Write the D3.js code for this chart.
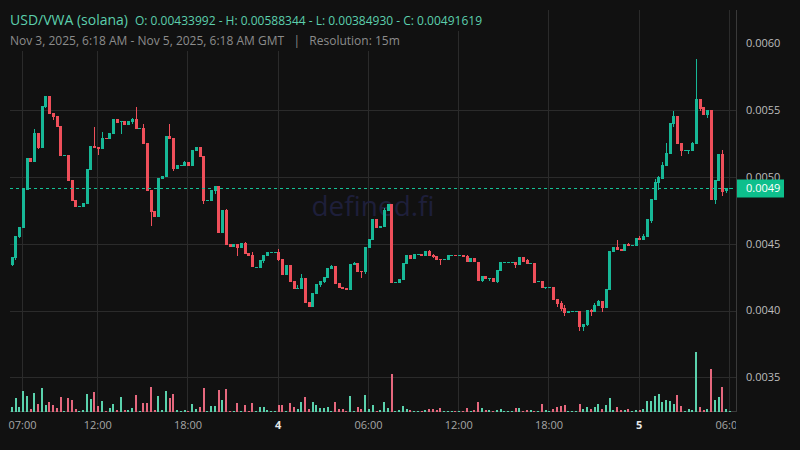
<!DOCTYPE html>
<html><head><meta charset="utf-8">
<script src="https://cdn.jsdelivr.net/npm/d3@7"></script>
<style>html,body{margin:0;padding:0;background:#111111;}svg{display:block;}</style>
</head><body>
<svg id="c" width="800" height="450"></svg>
<script>
// ---- data (15m candles, GMT) ----
const firstCandleUTC = Date.UTC(2025, 10, 3, 6, 15);
const candleMinutes = 15;
const open = [
0.00433992,0.004394,0.004551,0.004618,0.004903,0.005142,0.005112,0.005329,0.005217,0.005524,
0.005606,0.005479,0.005457,0.005382,0.005157,0.005165,0.004978,0.004828,0.004775,0.004775,
0.004798,0.005053,0.005232,0.005225,0.005210,0.005292,0.005285,0.005322,0.005434,0.005412,
0.005419,0.005389,0.005412,0.005434,0.005359,0.005367,0.005255,0.004903,0.004745,0.004701,
0.004985,0.005000,0.005307,0.005292,0.005060,0.005082,0.005082,0.005112,0.005082,0.005195,
0.005225,0.005157,0.004820,0.004820,0.004895,0.004933,0.004581,0.004753,0.004499,0.004476,
0.004499,0.004469,0.004506,0.004431,0.004416,0.004319,0.004319,0.004371,0.004409,0.004431,
0.004431,0.004439,0.004386,0.004267,0.004341,0.004222,0.004162,0.004162,0.004244,0.004064,
0.004027,0.004124,0.004192,0.004214,0.004244,0.004311,0.004334,0.004207,0.004177,0.004169,
0.004154,0.004341,0.004356,0.004296,0.004289,0.004469,0.004529,0.004686,0.004618,0.004626,
0.004745,0.004798,0.004207,0.004207,0.004229,0.004349,0.004416,0.004386,0.004416,0.004424,
0.004409,0.004446,0.004416,0.004409,0.004386,0.004379,0.004379,0.004409,0.004416,0.004409,
0.004416,0.004409,0.004364,0.004394,0.004364,0.004222,0.004259,0.004237,0.004244,0.004214,
0.004296,0.004356,0.004356,0.004356,0.004364,0.004341,0.004401,0.004379,0.004349,0.004356,
0.004214,0.004222,0.004169,0.004169,0.004177,0.004087,0.004057,0.004020,0.003982,0.003990,
0.003990,0.003997,0.003877,0.003892,0.004005,0.003990,0.004034,0.004072,0.004020,0.004154,
0.004439,0.004476,0.004461,0.004446,0.004499,0.004484,0.004484,0.004544,0.004529,0.004551,
0.004671,0.004828,0.004955,0.004985,0.005082,0.005172,0.005397,0.005457,0.005255,0.005195,
0.005195,0.005195,0.005247,0.005584,0.005524,0.005464,0.005502,0.004828,0.004970,0.005172,
0.004895,0.004910];
const high = [
0.004401,0.004559,0.004626,0.004918,0.005142,0.005142,0.005359,0.005329,0.005531,0.005606,
0.005606,0.005479,0.005457,0.005382,0.005165,0.005165,0.004978,0.004828,0.004783,0.004805,
0.005060,0.005232,0.005374,0.005225,0.005337,0.005292,0.005329,0.005434,0.005434,0.005419,
0.005419,0.005419,0.005442,0.005524,0.005367,0.005397,0.005255,0.004903,0.004745,0.004993,
0.005008,0.005307,0.005397,0.005292,0.005090,0.005090,0.005120,0.005112,0.005202,0.005225,
0.005225,0.005157,0.004828,0.004903,0.004933,0.004933,0.004753,0.004760,0.004499,0.004499,
0.004499,0.004506,0.004514,0.004431,0.004439,0.004326,0.004379,0.004416,0.004439,0.004439,
0.004439,0.004461,0.004386,0.004341,0.004341,0.004222,0.004192,0.004274,0.004244,0.004064,
0.004132,0.004199,0.004222,0.004252,0.004319,0.004341,0.004334,0.004207,0.004177,0.004169,
0.004349,0.004364,0.004356,0.004296,0.004476,0.004536,0.004686,0.004686,0.004633,0.004768,
0.004798,0.004798,0.004214,0.004237,0.004356,0.004416,0.004416,0.004424,0.004424,0.004424,
0.004446,0.004454,0.004424,0.004409,0.004386,0.004386,0.004416,0.004416,0.004416,0.004416,
0.004416,0.004416,0.004394,0.004394,0.004364,0.004259,0.004259,0.004244,0.004244,0.004304,
0.004364,0.004364,0.004364,0.004364,0.004364,0.004401,0.004401,0.004386,0.004356,0.004356,
0.004222,0.004222,0.004177,0.004177,0.004177,0.004087,0.004072,0.004042,0.003997,0.003997,
0.003997,0.003997,0.003900,0.004005,0.004012,0.004057,0.004079,0.004072,0.004162,0.004446,
0.004476,0.004529,0.004461,0.004499,0.004506,0.004491,0.004544,0.004559,0.004573,0.004686,
0.004835,0.004985,0.005008,0.005112,0.005255,0.005404,0.005494,0.005457,0.005255,0.005202,
0.005202,0.005262,0.00588344,0.005584,0.005524,0.005502,0.005502,0.004978,0.005172,0.005202,
0.004918,0.004916];
const low = [
0.004334,0.004379,0.004544,0.004618,0.004903,0.005112,0.005112,0.005210,0.005217,0.005516,
0.005472,0.005427,0.005374,0.005157,0.005157,0.004970,0.004820,0.004775,0.004775,0.004775,
0.004798,0.005053,0.005217,0.005165,0.005210,0.005285,0.005285,0.005322,0.005404,0.005322,
0.005389,0.005389,0.005397,0.005359,0.005359,0.005247,0.004895,0.004633,0.004701,0.004701,
0.004985,0.005000,0.005285,0.005045,0.005060,0.005082,0.005082,0.005082,0.005082,0.005195,
0.005150,0.004798,0.004820,0.004820,0.004873,0.004581,0.004581,0.004491,0.004476,0.004476,
0.004409,0.004469,0.004424,0.004409,0.004326,0.004319,0.004319,0.004356,0.004409,0.004431,
0.004431,0.004371,0.004267,0.004267,0.004214,0.004162,0.004162,0.004162,0.004057,0.004027,
0.004027,0.004124,0.004177,0.004207,0.004244,0.004311,0.004199,0.004169,0.004162,0.004154,
0.004154,0.004341,0.004289,0.004244,0.004274,0.004469,0.004529,0.004618,0.004618,0.004626,
0.004745,0.004207,0.004207,0.004207,0.004229,0.004349,0.004386,0.004386,0.004416,0.004409,
0.004409,0.004409,0.004394,0.004379,0.004341,0.004379,0.004379,0.004409,0.004409,0.004409,
0.004401,0.004364,0.004364,0.004364,0.004222,0.004214,0.004237,0.004222,0.004214,0.004207,
0.004296,0.004356,0.004356,0.004356,0.004319,0.004341,0.004364,0.004349,0.004349,0.004207,
0.004214,0.004169,0.004162,0.004169,0.004079,0.004027,0.003997,0.003960,0.003982,0.003990,
0.003990,0.0038493,0.003850,0.003885,0.003960,0.003990,0.004034,0.003990,0.004020,0.004154,
0.004439,0.004454,0.004446,0.004446,0.004484,0.004484,0.004484,0.004529,0.004529,0.004551,
0.004656,0.004828,0.004903,0.004985,0.005082,0.005172,0.005374,0.005247,0.005157,0.005195,
0.005172,0.005195,0.005247,0.005494,0.005464,0.005442,0.004828,0.004798,0.004970,0.004858,
0.004880,0.004910];
const close = [
0.004401,0.004559,0.004626,0.004918,0.005142,0.005112,0.005329,0.005217,0.005531,0.005606,
0.005472,0.005449,0.005374,0.005157,0.005165,0.004970,0.004820,0.004775,0.004783,0.004805,
0.005060,0.005232,0.005217,0.005210,0.005292,0.005285,0.005329,0.005434,0.005404,0.005419,
0.005389,0.005419,0.005434,0.005359,0.005367,0.005247,0.004895,0.004738,0.004701,0.004993,
0.005008,0.005307,0.005285,0.005060,0.005090,0.005090,0.005112,0.005082,0.005202,0.005225,
0.005150,0.004820,0.004828,0.004903,0.004933,0.004581,0.004753,0.004491,0.004476,0.004499,
0.004469,0.004506,0.004424,0.004409,0.004326,0.004326,0.004379,0.004416,0.004439,0.004439,
0.004439,0.004379,0.004267,0.004341,0.004214,0.004162,0.004169,0.004244,0.004057,0.004027,
0.004132,0.004199,0.004222,0.004252,0.004319,0.004334,0.004199,0.004169,0.004162,0.004154,
0.004349,0.004356,0.004289,0.004289,0.004476,0.004536,0.004686,0.004618,0.004633,0.004753,
0.004798,0.004207,0.004214,0.004237,0.004356,0.004416,0.004386,0.004424,0.004424,0.004409,
0.004446,0.004409,0.004401,0.004379,0.004379,0.004386,0.004416,0.004416,0.004409,0.004416,
0.004401,0.004364,0.004394,0.004364,0.004222,0.004259,0.004237,0.004244,0.004214,0.004304,
0.004364,0.004364,0.004364,0.004364,0.004341,0.004401,0.004364,0.004349,0.004356,0.004207,
0.004222,0.004169,0.004177,0.004177,0.004079,0.004049,0.004012,0.003982,0.003997,0.003997,
0.003997,0.003877,0.003900,0.004005,0.003990,0.004042,0.004072,0.004020,0.004162,0.004446,
0.004476,0.004454,0.004446,0.004499,0.004484,0.004491,0.004544,0.004529,0.004559,0.004686,
0.004835,0.004963,0.005000,0.005090,0.005180,0.005404,0.005457,0.005247,0.005195,0.005202,
0.005202,0.005255,0.005584,0.005509,0.005464,0.005502,0.004828,0.004978,0.005172,0.004888,
0.004918,0.00491619];
const volume = [
4700,13700,4700,20700,15700,2700,18700,7700,23700,6700,
9700,6700,3700,14700,700,13700,11700,2700,700,1700,
17700,12700,19700,5700,10700,700,3700,7700,1700,14700,
1700,1700,3700,16700,700,8700,8700,24700,1700,15700,
1700,20700,13700,17700,1700,700,1700,700,7700,2700,
4700,23700,700,5700,5700,21700,11700,22700,700,700,
8700,700,6700,700,8700,700,4700,4700,1700,700,
700,6700,6700,700,8700,4700,2700,9700,14700,2700,
9700,6700,3700,3700,4700,700,9700,2700,2700,700,
15700,700,4700,2700,16700,2700,6700,700,1700,9700,
3700,37700,700,1700,5700,2700,1700,700,700,700,
1700,2700,2700,1700,3700,700,700,700,700,700,
700,3700,700,1700,9700,3700,1700,1700,700,1700,
2700,700,700,700,3700,3700,700,1700,1700,700,
700,7700,1700,700,2700,4700,5700,6700,700,700,
700,7700,2700,4700,2700,4700,7700,2700,6700,13700,
1700,4700,1700,1700,2700,700,1700,1700,2700,10700,
10700,15700,17700,9700,11700,10700,7700,16700,5700,700,
2700,1700,59700,4700,1700,2700,42700,11700,14700,24700,
2700,700];

const priceTicks = [0.0035, 0.0040, 0.0045, 0.0050, 0.0055, 0.0060];
const priceTickLabels = ["0.0035", "0.0040", "0.0045", "0.0050", "0.0055", "0.0060"];
const gridPrices = [0.0035, 0.0040, 0.0045, 0.0050, 0.0055];
const timeTicks = [
  Date.UTC(2025,10,3,7), Date.UTC(2025,10,3,12), Date.UTC(2025,10,3,18),
  Date.UTC(2025,10,4,0), Date.UTC(2025,10,4,6), Date.UTC(2025,10,4,12),
  Date.UTC(2025,10,4,18), Date.UTC(2025,10,5,0), Date.UTC(2025,10,5,6)];
const timeTickLabels = ["07:00", "12:00", "18:00", "4", "06:00", "12:00", "18:00", "5", "06:00"];
const dayTick = [false, false, false, true, false, false, false, true, false];
const lastPrice = 0.00491619;
const lastPriceLabel = "0.0049";
const titleMain = "USD/VWA (solana)";
const titleOHLC = "O: 0.00433992 - H: 0.00588344 - L: 0.00384930 - C: 0.00491619";
const subtitle = "Nov 3, 2025, 6:18 AM - Nov 5, 2025, 6:18 AM GMT   |   Resolution: 15m";
const watermark = "defined.fi";

// ---- styles ----
const C = {
  bg: "#111111", grid: "#2b2b2b", border: "#3a3a3a",
  up: "#17b897", down: "#ef4f5a", volUp: "#5ad2ad", volDown: "#e6687e",
  axisText: "#bdbdbd", timeText: "#a6a6a6", dayText: "#e6e6e6",
  title: "#5ccfad", sub: "#8c8c8c", priceLine: "#14c196", priceBox: "#0dbf8c",
  mark: "#1e1f3a"
};
const plot = {left: 10, right: 736, top: 10, bottom: 411.5};
const font = "'Open Sans', 'Noto Sans', sans-serif";

const data = open.map((o, i) => ({
  t: new Date(firstCandleUTC + i * candleMinutes * 60000),
  o, h: high[i], l: low[i], c: close[i], v: volume[i]
}));

const x = d3.scaleUtc()
  .domain([new Date(Date.UTC(2025,10,3,6,12)), new Date(Date.UTC(2025,10,5,6,28))])
  .range([plot.left, plot.right]);
const y = d3.scaleLinear().domain([0.003249, 0.00625]).range([plot.bottom - 0.5, plot.top]);
const vy = d3.scaleLinear().domain([0, d3.max(volume)]).range([0, 59.7]);

const svg = d3.select("#c").style("font-family", font);
svg.append("rect").attr("width", 800).attr("height", 450).attr("fill", C.bg);

const defs = svg.append("defs");
defs.append("clipPath").attr("id", "plotClip").append("rect")
  .attr("x", 0).attr("y", 0).attr("width", plot.right).attr("height", 450);

// grid
const g = svg.append("g").attr("shape-rendering", "crispEdges");
g.selectAll("line.h").data(gridPrices).join("line")
  .attr("x1", plot.left).attr("x2", plot.right)
  .attr("y1", d => Math.round(y(d)) + 0.5).attr("y2", d => Math.round(y(d)) + 0.5)
  .attr("stroke", C.grid);
g.selectAll("line.v").data(timeTicks).join("line")
  .attr("x1", d => Math.round(x(d)) + 0.5).attr("x2", d => Math.round(x(d)) + 0.5)
  .attr("y1", plot.top).attr("y2", plot.bottom)
  .attr("stroke", C.grid);

// watermark
svg.append("text").attr("x", 373).attr("y", 216).attr("text-anchor", "middle")
  .attr("font-size", 28).attr("fill", C.mark).text(watermark);

// volume
const vg = svg.append("g").attr("shape-rendering", "crispEdges");
vg.selectAll("rect").data(data).join("rect")
  .attr("x", d => x(d.t))
  .attr("width", 2)
  .attr("y", d => plot.bottom + 0.5 - Math.max(1, vy(d.v)))
  .attr("height", d => Math.max(1, vy(d.v)))
  .attr("fill", d => d.c >= d.o ? C.volUp : C.volDown);

// candles
const cg = svg.append("g").attr("shape-rendering", "crispEdges");
const cx = d => Math.round(x(d.t) + 0.75);
cg.selectAll("rect.w").data(data).join("rect")
  .attr("x", d => cx(d)).attr("width", 1)
  .attr("y", d => y(d.h)).attr("height", d => Math.max(1, y(d.l) - y(d.h)))
  .attr("fill", d => d.c >= d.o ? C.up : C.down);
cg.selectAll("rect.b").data(data).join("rect")
  .attr("x", d => cx(d) - 1).attr("width", 3)
  .attr("y", d => y(Math.max(d.o, d.c)))
  .attr("height", d => Math.max(1, Math.abs(y(d.o) - y(d.c))))
  .attr("fill", d => d.c >= d.o ? C.up : C.down);

// borders
g.append("line").attr("x1", plot.right + 0.5).attr("x2", plot.right + 0.5)
  .attr("y1", plot.top).attr("y2", plot.bottom).attr("stroke", C.border);
g.append("line").attr("x1", plot.left).attr("x2", plot.right)
  .attr("y1", plot.bottom).attr("y2", plot.bottom).attr("stroke", C.border);

// last price line
const yp = Math.round(y(lastPrice)) + 0.5;
svg.append("line").attr("x1", plot.left).attr("x2", plot.right)
  .attr("y1", yp).attr("y2", yp).attr("stroke", C.priceLine)
  .attr("stroke-dasharray", "3,3").attr("shape-rendering", "crispEdges");

// y axis labels
svg.append("g").selectAll("text").data(priceTicks).join("text")
  .attr("x", 746).attr("y", d => y(d)).attr("dy", "0.35em")
  .attr("font-size", 11).attr("fill", C.axisText)
  .text((d, i) => priceTickLabels[i]);

// price label box
svg.append("rect").attr("x", plot.right + 1).attr("y", yp - 9).attr("width", 47).attr("height", 18)
  .attr("fill", C.priceBox);
svg.append("text").attr("x", 746).attr("y", yp).attr("dy", "0.35em")
  .attr("font-size", 11).attr("fill", "#ffffff").text(lastPriceLabel);

// x axis labels
svg.append("g").attr("clip-path", "url(#plotClip)").selectAll("text").data(timeTicks).join("text")
  .attr("x", d => x(d) + 0.5).attr("y", 425).attr("dy", "0.35em").attr("text-anchor", "middle")
  .attr("font-size", 11)
  .attr("font-weight", (d, i) => dayTick[i] ? 700 : 400)
  .attr("fill", (d, i) => dayTick[i] ? C.dayText : C.timeText)
  .text((d, i) => timeTickLabels[i]);

// header
svg.append("rect").attr("x", 0).attr("y", 0).attr("width", 492).attr("height", 31).attr("fill", C.bg);
svg.append("rect").attr("x", 0).attr("y", 31).attr("width", 406).attr("height", 20).attr("fill", C.bg);
const t1 = svg.append("text").attr("x", 10).attr("y", 25).attr("fill", C.title);
t1.append("tspan").attr("font-size", 14).text(titleMain);
t1.append("tspan").attr("x", 135).attr("font-size", 12).text(titleOHLC);
svg.append("text").attr("x", 10).attr("y", 45).attr("font-size", 12).attr("fill", C.sub)
  .attr("xml:space", "preserve").style("white-space", "pre").text(subtitle);
</script>
</body></html>
